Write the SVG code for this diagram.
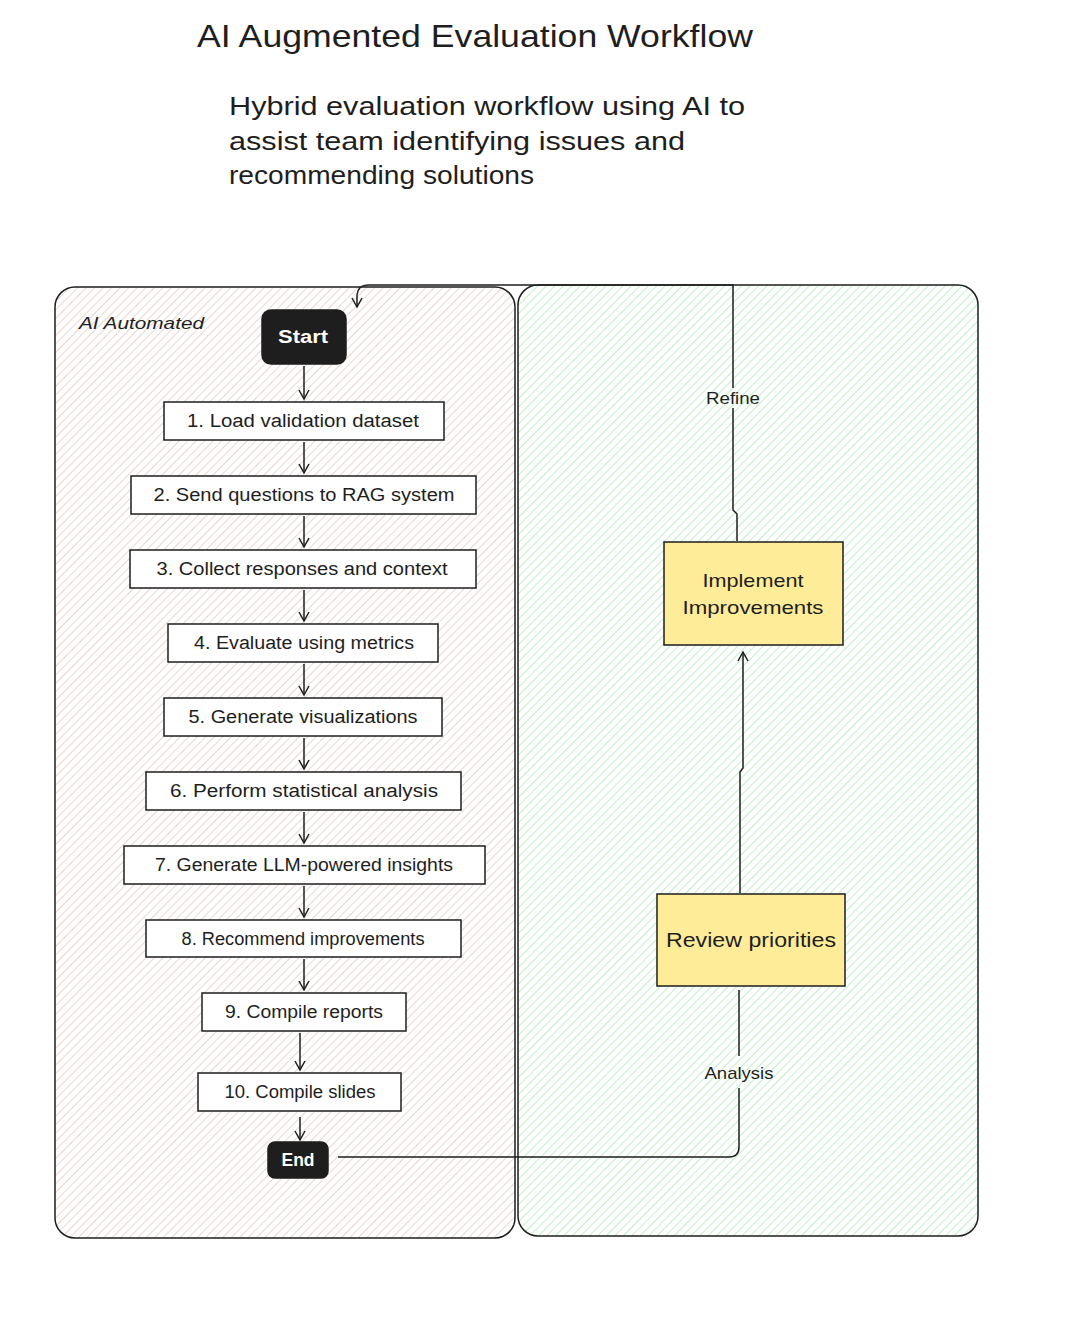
<svg xmlns="http://www.w3.org/2000/svg" width="1068" height="1330" viewBox="0 0 1068 1330">
<style>
  .t{font-family:"Liberation Sans","DejaVu Sans",sans-serif;fill:#1e1e1e}
  .node{fill:#ffffff;stroke:#1e1e1e;stroke-width:1.5}
  .term{fill:#1e1e1e;stroke:#1e1e1e;stroke-width:1.5}
  .yel{fill:#ffec99;stroke:#1e1e1e;stroke-width:1.5}
  .lbl{font-size:18px;text-anchor:middle}
  .wl{fill:#ffffff;font-size:18px;text-anchor:middle;font-weight:bold}
  .con{fill:none;stroke:#1e1e1e;stroke-width:1.5}
  .box{stroke:#1e1e1e;stroke-width:1.5}
</style>
<defs>
  <pattern id="hL" width="6" height="6" patternUnits="userSpaceOnUse" patternTransform="rotate(45)">
    <line x1="0" y1="0" x2="0" y2="6" stroke="#dcc6bb" stroke-width="1.4"/>
  </pattern>
  <pattern id="hR" width="6" height="6" patternUnits="userSpaceOnUse" patternTransform="rotate(45)">
    <line x1="0" y1="0" x2="0" y2="6" stroke="#a6e8b0" stroke-width="1.4"/>
  </pattern>
  <marker id="ar" markerWidth="12" markerHeight="12" refX="10" refY="6" orient="auto" markerUnits="userSpaceOnUse">
    <path d="M1,1 L10,6 L1,11" fill="none" stroke="#1e1e1e" stroke-width="1.5"/>
  </marker>
</defs>
<rect width="1068" height="1330" fill="#ffffff"/>

<g id="title">
  <text class="t" x="197" y="47" font-size="32" textLength="556" lengthAdjust="spacingAndGlyphs">AI Augmented Evaluation Workflow</text>
</g>
<g id="subtitle">
  <text class="t" x="229" y="115" font-size="26" textLength="516" lengthAdjust="spacingAndGlyphs">Hybrid evaluation workflow using AI to</text>
  <text class="t" x="229" y="150" font-size="26" textLength="456" lengthAdjust="spacingAndGlyphs">assist team identifying issues and</text>
  <text class="t" x="229" y="184" font-size="26" textLength="305" lengthAdjust="spacingAndGlyphs">recommending solutions</text>
</g>

<g id="lane-ai">
  <rect class="box" x="55" y="287" width="460" height="951" rx="20" fill="url(#hL)"/>
  <text class="t" x="79" y="329" font-size="17" font-style="italic" textLength="125" lengthAdjust="spacingAndGlyphs">AI Automated</text>
</g>
<g id="lane-team">
  <rect class="box" x="518" y="285" width="460" height="951" rx="20" fill="url(#hR)"/>
</g>

<g id="connectors">
  <line class="con" x1="304" y1="366" x2="304" y2="399" marker-end="url(#ar)"/>
  <line class="con" x1="304" y1="442" x2="304" y2="473" marker-end="url(#ar)"/>
  <line class="con" x1="304" y1="516" x2="304" y2="547" marker-end="url(#ar)"/>
  <line class="con" x1="304" y1="590" x2="304" y2="621" marker-end="url(#ar)"/>
  <line class="con" x1="304" y1="664" x2="304" y2="695" marker-end="url(#ar)"/>
  <line class="con" x1="304" y1="738" x2="304" y2="769" marker-end="url(#ar)"/>
  <line class="con" x1="304" y1="812" x2="304" y2="843" marker-end="url(#ar)"/>
  <line class="con" x1="304" y1="886" x2="304" y2="917" marker-end="url(#ar)"/>
  <line class="con" x1="304" y1="959" x2="304" y2="990" marker-end="url(#ar)"/>
  <line class="con" x1="300" y1="1033" x2="300" y2="1070" marker-end="url(#ar)"/>
  <line class="con" x1="300" y1="1117" x2="300" y2="1140" marker-end="url(#ar)"/>
  <!-- End to Review priorities (Analysis) -->
  <path class="con" d="M338,1157 L729,1157 Q739,1157 739,1147 L739,1088"/>
  <path class="con" d="M739,1056 L739,990"/>
  <text class="t" x="739" y="1079" font-size="17" text-anchor="middle" textLength="69" lengthAdjust="spacingAndGlyphs">Analysis</text>
  <!-- Review to Implement -->
  <path class="con" d="M740,893 L740,772 L743,768 L743,652" marker-end="url(#ar)"/>
  <!-- Implement to Start (Refine) -->
  <path class="con" d="M737,541 L737,514 L733,510 L733,408"/>
  <path class="con" d="M733,388 L733,285 L368,285 Q358,285 357,295 L357,307" marker-end="url(#ar)"/>
  <text class="t" x="733" y="404" font-size="17" text-anchor="middle" textLength="54" lengthAdjust="spacingAndGlyphs">Refine</text>
</g>

<g id="start">
  <rect class="term" x="262" y="310" width="84" height="54" rx="9"/>
  <text class="t wl" x="303" y="343" textLength="50" lengthAdjust="spacingAndGlyphs">Start</text>
</g>
<g id="n1">
  <rect class="node" x="164" y="402" width="280" height="38"/>
  <text class="t lbl" x="303" y="427" textLength="232" lengthAdjust="spacingAndGlyphs">1. Load validation dataset</text>
</g>
<g id="n2">
  <rect class="node" x="131" y="476" width="345" height="38"/>
  <text class="t lbl" x="304" y="501" textLength="301" lengthAdjust="spacingAndGlyphs">2. Send questions to RAG system</text>
</g>
<g id="n3">
  <rect class="node" x="130" y="550" width="346" height="38"/>
  <text class="t lbl" x="302" y="575" textLength="291" lengthAdjust="spacingAndGlyphs">3. Collect responses and context</text>
</g>
<g id="n4">
  <rect class="node" x="168" y="624" width="270" height="38"/>
  <text class="t lbl" x="304" y="649" textLength="220" lengthAdjust="spacingAndGlyphs">4. Evaluate using metrics</text>
</g>
<g id="n5">
  <rect class="node" x="164" y="698" width="278" height="38"/>
  <text class="t lbl" x="303" y="723" textLength="229" lengthAdjust="spacingAndGlyphs">5. Generate visualizations</text>
</g>
<g id="n6">
  <rect class="node" x="146" y="772" width="315" height="38"/>
  <text class="t lbl" x="304" y="797" textLength="268" lengthAdjust="spacingAndGlyphs">6. Perform statistical analysis</text>
</g>
<g id="n7">
  <rect class="node" x="124" y="846" width="361" height="38"/>
  <text class="t lbl" x="304" y="871" textLength="298" lengthAdjust="spacingAndGlyphs">7. Generate LLM-powered insights</text>
</g>
<g id="n8">
  <rect class="node" x="146" y="920" width="315" height="37"/>
  <text class="t lbl" x="303" y="945" textLength="243" lengthAdjust="spacingAndGlyphs">8. Recommend improvements</text>
</g>
<g id="n9">
  <rect class="node" x="202" y="993" width="204" height="38"/>
  <text class="t lbl" x="304" y="1018" textLength="158" lengthAdjust="spacingAndGlyphs">9. Compile reports</text>
</g>
<g id="n10">
  <rect class="node" x="198" y="1073" width="203" height="38"/>
  <text class="t lbl" x="300" y="1098" textLength="151" lengthAdjust="spacingAndGlyphs">10. Compile slides</text>
</g>
<g id="end">
  <rect class="term" x="268" y="1142" width="60" height="36" rx="7"/>
  <text class="t wl" x="298" y="1166" textLength="33" lengthAdjust="spacingAndGlyphs">End</text>
</g>
<g id="implement">
  <rect class="yel" x="664" y="542" width="179" height="103"/>
  <text class="t" x="753" y="587" font-size="19" text-anchor="middle" textLength="101" lengthAdjust="spacingAndGlyphs">Implement</text>
  <text class="t" x="753" y="614" font-size="19" text-anchor="middle" textLength="141" lengthAdjust="spacingAndGlyphs">Improvements</text>
</g>
<g id="review">
  <rect class="yel" x="657" y="894" width="188" height="92"/>
  <text class="t" x="751" y="947" font-size="20" text-anchor="middle" textLength="170" lengthAdjust="spacingAndGlyphs">Review priorities</text>
</g>
</svg>
